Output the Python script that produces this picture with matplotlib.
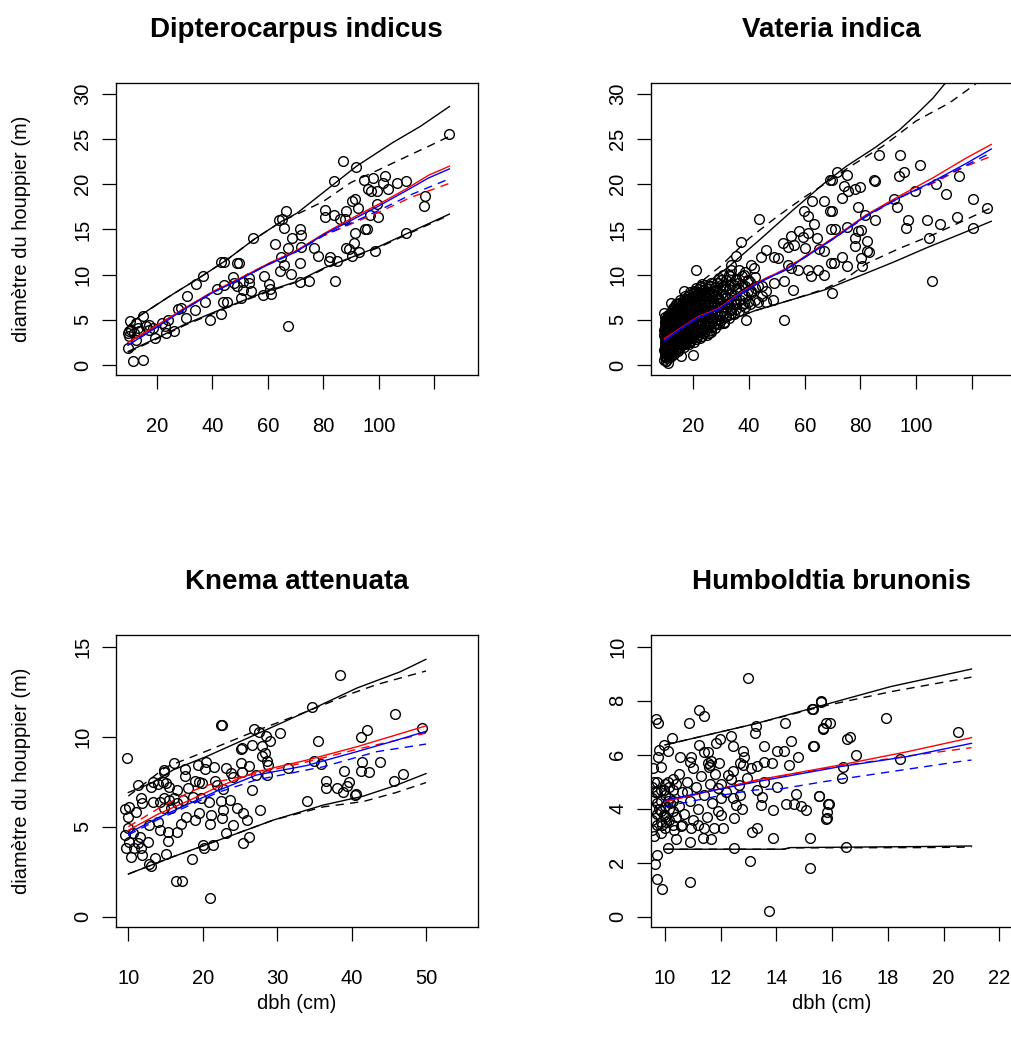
import matplotlib
matplotlib.use("Agg")
import matplotlib.pyplot as plt

plt.rcParams['font.family'] = ['Liberation Sans', 'DejaVu Sans']

W, H = 1012, 1043

# ---------------- Dipterocarpus indicus ----------------
dipt_pts = [(66.6, 17.0), (65.0, 16.15), (63.9, 16.0), (65.95, 15.15), (54.5, 14.05), (62.7, 13.4),
            (68.6, 14.05), (67.2, 12.9), (43.0, 11.45), (44.0, 11.4), (48.7, 11.3), (49.7, 11.3),
            (36.5, 9.9), (34.1, 8.95), (30.8, 7.6), (28.7, 6.3), (27.5, 6.2), (30.5, 5.2), (33.7, 6.1),
            (41.7, 8.4), (44.3, 8.9), (47.3, 9.7), (47.9, 9.07), (51.2, 9.14), (53.3, 9.6), (53.1, 9.07),
            (53.9, 8.15), (50.3, 7.4), (50.9, 8.3), (48.8, 8.7), (43.7, 7.0), (45.3, 6.93), (37.4, 6.93),
            (39.2, 5.0), (43.1, 5.7), (58.7, 9.88), (60.3, 9.0), (60.9, 8.4), (61.1, 7.85), (58.1, 7.8),
            (64.5, 10.36), (65.7, 11.06), (68.4, 10.1), (64.6, 11.9), (67.2, 4.27), (10.25, 4.9), (14.8, 5.38),
            (12.4, 4.64), (10.6, 3.9), (9.5, 3.5), (13.6, 3.72), (16.0, 4.27), (17.2, 3.9), (18.4, 4.1),
            (12.4, 2.8), (19.4, 3.0), (21.7, 4.64), (23.8, 5.0), (23.2, 3.54), (26.3, 3.72), (9.4, 1.88),
            (11.2, 0.4), (14.8, 0.6), (10.0, 3.17), (11.8, 3.54), (9.8, 3.72), (13.0, 4.1), (17.2, 4.46),
            (23.0, 4.35), (125.3, 25.6), (87.0, 22.6), (91.9, 21.9), (83.7, 20.4), (94.6, 20.5), (97.8, 20.7),
            (102.1, 20.9), (101.5, 20.1), (106.6, 20.1), (109.8, 20.4), (96.0, 19.5), (97.2, 19.3),
            (99.4, 19.3), (103.3, 19.5), (90.4, 18.2), (91.6, 18.4), (99.4, 17.8), (116.8, 18.7),
            (116.2, 17.55), (80.5, 17.2), (80.5, 16.33), (83.7, 16.55), (86.1, 16.15), (88.2, 17.0),
            (88.0, 16.15), (92.5, 17.4), (96.7, 16.55), (99.7, 16.33), (95.2, 15.1), (95.8, 15.0),
            (91.6, 14.6), (91.2, 13.5), (88.3, 12.9), (89.2, 12.8), (92.8, 12.5), (90.4, 12.1), (98.5, 12.6),
            (110.0, 14.6), (78.0, 12.1), (76.5, 12.9), (82.3, 12.0), (81.9, 11.5), (84.9, 11.5), (84.3, 9.3),
            (71.7, 11.3), (71.7, 9.2), (75.0, 9.3), (71.7, 15.1), (71.9, 14.4), (71.9, 13.1)]
dipt_hi = [(9.6, 4.3), (14, 5.5), (25, 7.7), (35, 9.6), (45, 11.6), (55, 13.9), (65, 15.9), (70.5, 16.8),
           (82.5, 19.7), (92, 22.0), (105, 24.6), (115, 26.4), (125.5, 28.6)]
dipt_hi2 = [(9.6, 4.3), (14, 5.5), (25, 7.7), (35, 9.6), (45, 11.6), (55, 13.9), (65, 15.9), (72, 16.9),
            (80, 18.1), (90, 20.2), (100, 21.6), (111, 23.2), (118, 24.2), (125.5, 25.3)]
dipt_lo = [(9.6, 1.5), (20, 3.0), (30, 4.5), (41, 5.9), (50, 7.0), (60, 8.2), (71, 9.3), (80, 10.7),
           (90, 11.9), (100, 13.1), (112, 14.8), (125.5, 16.7)]
dipt_lo2 = [(9.6, 1.4), (20, 2.9), (30, 4.4), (41, 5.8), (50, 6.95), (60, 8.1), (71, 9.25), (80, 10.6),
            (90, 11.85), (100, 13.0), (112, 14.7), (125.5, 16.6)]
dipt_red = [(9.5, 2.5), (20, 4.4), (30, 6.3), (40, 8.1), (50, 9.6), (60, 11.2), (70, 12.6), (80, 14.5),
            (90, 16.2), (100, 17.8), (110, 19.5), (118, 21.0), (125.5, 22.0)]
dipt_red2 = [(9.5, 2.5), (20, 4.4), (30, 6.3), (40, 8.1), (50, 9.6), (60, 11.2), (70, 12.6), (80, 14.3),
             (90, 15.6), (100, 16.9), (112, 18.6), (125.5, 20.1)]
dipt_blue = [(9.5, 2.2), (20, 4.2), (30, 6.2), (40, 8.0), (50, 9.5), (60, 11.1), (70, 12.5), (80, 14.4),
             (90, 16.0), (100, 17.6), (110, 19.3), (118, 20.7), (125.5, 21.7)]
dipt_blue2 = [(9.5, 2.2), (20, 4.2), (30, 6.2), (40, 8.0), (50, 9.5), (60, 11.1), (70, 12.5), (80, 14.3),
              (90, 15.7), (100, 17.1), (112, 18.9), (125.5, 20.6)]

# ---------------- Vateria indica ----------------
vat_pts = [(86.8, 23.26), (94.4, 23.26), (101.3, 22.08), (95.5, 21.4), (93.8, 20.9), (115.3, 20.9),
           (71.6, 21.3), (75.2, 21.05), (69.8, 20.5), (74.0, 19.8), (75.4, 19.2), (78.2, 19.5), (80.0, 19.7),
           (73.4, 18.5), (84.8, 20.5), (85.4, 20.4), (107.0, 20.05), (99.5, 19.2), (110.8, 18.9),
           (92.0, 18.4), (93.2, 17.5), (79.1, 17.5), (69.8, 17.0), (81.8, 16.6), (85.4, 16.0), (97.1, 16.1),
           (96.4, 15.2), (103.9, 16.0), (108.7, 15.6), (114.7, 16.4), (120.5, 18.4), (125.5, 17.4),
           (120.5, 15.2), (104.5, 14.05), (71.0, 15.1), (75.2, 15.3), (79.1, 14.8), (80.3, 14.9),
           (78.2, 14.05), (78.0, 13.2), (82.4, 13.7), (82.4, 12.6), (83.2, 12.5), (73.4, 11.9), (70.4, 11.3),
           (75.2, 11.0), (80.6, 11.0), (80.3, 11.8), (105.7, 9.3), (69.8, 7.97),
           (69.1, 20.5), (67.1, 18.1), (62.7, 18.1), (69.2, 17.0), (59.9, 17.0), (61.1, 16.5), (63.5, 15.6),
           (43.7, 16.2), (37.1, 13.6), (21.0, 10.5), (58.1, 14.8), (61.1, 14.6), (55.1, 14.3), (59.3, 14.2),
           (64.4, 14.05), (52.1, 13.5), (56.3, 13.3), (53.9, 13.1), (60.1, 12.9), (65.3, 12.8), (67.1, 12.6),
           (69.5, 15.0), (69.5, 11.3), (46.1, 12.75), (49.1, 12.0), (50.3, 11.8), (44.3, 12.0), (35.3, 12.1),
           (40.7, 11.1), (41.9, 10.7), (36.5, 10.5), (38.3, 10.0), (33.5, 11.1), (30.5, 10.0), (31.7, 9.4),
           (32.9, 10.0), (35.9, 9.1), (39.5, 9.4), (43.1, 8.7), (53.9, 11.1), (55.1, 10.7), (57.5, 10.5),
           (61.1, 10.5), (64.7, 10.5), (67.1, 10.0), (62.3, 9.8), (52.7, 9.3), (55.7, 8.3), (49.1, 9.1),
           (46.1, 8.2), (40.7, 8.2), (43.1, 7.0), (46.1, 7.0), (48.5, 7.2), (38.3, 6.9), (35.3, 6.7),
           (38.9, 5.0), (33.5, 6.1), (52.5, 5.0), (16.8, 8.2), (27.6, 8.2), (30.5, 8.7), (35.3, 9.4),
           (26.4, 9.1), (22.8, 8.7), (21.6, 8.0), (24.6, 7.6), (28.8, 7.2), (32.3, 6.9), (19.2, 7.2),
           (12.0, 6.9), (9.6, 5.8), (9.8, 4.8), (13.2, 5.6), (16.8, 5.4), (21.0, 5.8), (24.0, 5.2),
           (28.8, 5.4), (31.1, 4.64), (22.8, 3.9), (26.4, 3.7), (19.2, 3.2), (15.6, 2.8), (19.8, 1.15),
           (10.2, 0.4), (9.5, 1.7), (12.0, 1.0), (15.6, 1.0), (9.6, 3.9), (10.8, 0.2)]
# dense cloud of small trees (read row by row)
vat_small = [(9.6, 0.6), (9.9, 1.4), (9.7, 2.1), (10.1, 2.7), (9.6, 3.3), (9.8, 3.9), (10.2, 4.5),
             (10.0, 1.0), (10.3, 1.8), (9.9, 2.4), (10.0, 3.0), (10.3, 3.6), (9.9, 4.2), (10.1, 4.9),
             (10.5, 0.8), (10.7, 1.5), (10.4, 2.2), (10.6, 2.9), (10.8, 3.5), (10.5, 4.0), (10.7, 4.6), (10.4, 5.2),
             (11.0, 1.2), (11.2, 1.9), (10.9, 2.6), (11.1, 3.2), (11.3, 3.8), (10.9, 4.4), (11.2, 5.0),
             (11.6, 0.9), (11.8, 1.6), (11.5, 2.3), (11.7, 3.0), (11.9, 3.7), (11.5, 4.3), (11.8, 5.0), (11.6, 5.6),
             (12.2, 1.3), (12.4, 2.0), (12.1, 2.8), (12.3, 3.4), (12.5, 4.1), (12.1, 4.8), (12.4, 5.4), (12.2, 6.1),
             (12.8, 1.7), (13.0, 2.5), (12.7, 3.2), (12.9, 3.9), (13.1, 4.6), (12.8, 5.2), (13.0, 5.9),
             (13.5, 1.5), (13.7, 2.2), (13.4, 3.0), (13.6, 3.7), (13.8, 4.4), (13.4, 5.1), (13.7, 5.8), (13.5, 6.5),
             (14.2, 1.9), (14.4, 2.7), (14.1, 3.4), (14.3, 4.1), (14.5, 4.9), (14.1, 5.6), (14.4, 6.3),
             (15.0, 1.8), (15.2, 2.5), (14.9, 3.3), (15.1, 4.0), (15.3, 4.7), (14.9, 5.4), (15.2, 6.1), (15.0, 6.9),
             (15.8, 2.2), (16.0, 3.0), (15.7, 3.7), (15.9, 4.5), (16.1, 5.2), (15.7, 6.0), (16.0, 6.7),
             (16.6, 2.0), (16.8, 2.8), (16.5, 3.6), (16.7, 4.3), (16.9, 5.1), (16.5, 5.8), (16.8, 6.6), (16.6, 7.3),
             (17.5, 2.5), (17.7, 3.3), (17.4, 4.1), (17.6, 4.9), (17.8, 5.6), (17.4, 6.4), (17.7, 7.1),
             (18.4, 2.3), (18.6, 3.1), (18.3, 3.9), (18.5, 4.7), (18.7, 5.5), (18.3, 6.2), (18.6, 7.0), (18.4, 7.8),
             (19.3, 2.8), (19.5, 3.6), (19.2, 4.4), (19.4, 5.2), (19.6, 6.0), (19.2, 6.8), (19.5, 7.5),
             (20.3, 2.6), (20.5, 3.4), (20.2, 4.2), (20.4, 5.0), (20.6, 5.8), (20.2, 6.6), (20.5, 7.4), (20.3, 8.2),
             (21.4, 3.1), (21.6, 3.9), (21.3, 4.7), (21.5, 5.6), (21.7, 6.4), (21.3, 7.2), (21.6, 8.0),
             (22.5, 3.0), (22.7, 3.8), (22.4, 4.6), (22.6, 5.5), (22.8, 6.3), (22.4, 7.1), (22.7, 7.9), (22.5, 8.6),
             (23.7, 3.5), (23.9, 4.3), (23.6, 5.2), (23.8, 6.0), (24.0, 6.8), (23.6, 7.7),
             (25.0, 3.3), (25.2, 4.2), (24.9, 5.0), (25.1, 5.9), (25.3, 6.7), (24.9, 7.6), (25.2, 8.4),
             (26.4, 3.9), (26.6, 4.8), (26.3, 5.7), (26.5, 6.5), (26.7, 7.4), (26.3, 8.8),
             (27.8, 4.1), (28.0, 5.0), (27.7, 5.9), (27.9, 6.8), (28.1, 7.7), (27.7, 8.6),
             (29.3, 4.5), (29.5, 5.5), (29.2, 6.4), (29.4, 7.3), (29.6, 8.3), (29.2, 9.6),
             (31.0, 4.8), (31.2, 5.8), (30.9, 6.8), (31.1, 7.8), (31.3, 8.8),
             (32.8, 5.2), (33.0, 6.3), (32.7, 7.3), (32.9, 8.4), (33.1, 9.9),
             (34.6, 5.6), (34.8, 6.7), (34.5, 7.8), (34.7, 8.9),
             (36.5, 6.0), (36.7, 7.2), (36.4, 8.4),
             (38.5, 6.4), (38.7, 7.6), (38.4, 8.8), (38.6, 10.3),
             (40.5, 6.8), (40.7, 8.0), (40.4, 9.2)]
vat_small2 = [(9.8, 0.9), (9.8, 1.7), (9.8, 2.4), (9.8, 3.0), (9.8, 3.6), (9.8, 4.2), (9.8, 4.8), (9.8, 5.3),
              (10.3, 0.5), (10.3, 1.2), (10.3, 2.0), (10.3, 2.6), (10.3, 3.3), (10.3, 3.9), (10.3, 4.5), (10.3, 5.1),
              (10.8, 1.0), (10.8, 1.7), (10.8, 2.5), (10.8, 3.1), (10.8, 3.7), (10.8, 4.3), (10.8, 4.9), (10.8, 5.5),
              (11.4, 1.4), (11.4, 2.1), (11.4, 2.8), (11.4, 3.4), (11.4, 4.0), (11.4, 4.7), (11.4, 5.3),
              (12.0, 1.0), (12.0, 1.7), (12.0, 2.5), (12.0, 3.1), (12.0, 3.8), (12.0, 4.4), (12.0, 5.1), (12.0, 5.8),
              (12.6, 1.5), (12.6, 2.2), (12.6, 3.0), (12.6, 3.6), (12.6, 4.3), (12.6, 5.0), (12.6, 5.6), (12.6, 6.3),
              (13.2, 1.2), (13.2, 2.0), (13.2, 2.7), (13.2, 3.5), (13.2, 4.2), (13.2, 4.9), (13.2, 5.5), (13.2, 6.2),
              (13.9, 1.8), (13.9, 2.6), (13.9, 3.3), (13.9, 4.0), (13.9, 4.7), (13.9, 5.4), (13.9, 6.1), (13.9, 6.8),
              (14.6, 1.6), (14.6, 2.3), (14.6, 3.0), (14.6, 3.8), (14.6, 4.5), (14.6, 5.2), (14.6, 6.0), (14.6, 6.7),
              (15.4, 2.0), (15.4, 2.8), (15.4, 3.5), (15.4, 4.3), (15.4, 5.0), (15.4, 5.7), (15.4, 6.5), (15.4, 7.2),
              (16.2, 2.4), (16.2, 3.2), (16.2, 4.0), (16.2, 4.7), (16.2, 5.5), (16.2, 6.3), (16.2, 7.0),
              (17.0, 2.3), (17.0, 3.1), (17.0, 3.9), (17.0, 4.6), (17.0, 5.4), (17.0, 6.2), (17.0, 6.9), (17.0, 7.6),
              (17.9, 2.8), (17.9, 3.6), (17.9, 4.4), (17.9, 5.2), (17.9, 6.0), (17.9, 6.8), (17.9, 7.5),
              (18.9, 2.6), (18.9, 3.4), (18.9, 4.2), (18.9, 5.0), (18.9, 5.8), (18.9, 6.6), (18.9, 7.4), (18.9, 8.1),
              (19.8, 3.0), (19.8, 3.9), (19.8, 4.7), (19.8, 5.5), (19.8, 6.3), (19.8, 7.1), (19.8, 7.9),
              (20.9, 2.9), (20.9, 3.7), (20.9, 4.5), (20.9, 5.3), (20.9, 6.1), (20.9, 6.9), (20.9, 7.7), (20.9, 8.5),
              (21.9, 3.4), (21.9, 4.3), (21.9, 5.1), (21.9, 5.9), (21.9, 6.8), (21.9, 7.6), (21.9, 8.4),
              (23.1, 3.2), (23.1, 4.1), (23.1, 4.9), (23.1, 5.8), (23.1, 6.6), (23.1, 7.4), (23.1, 8.2), (23.1, 9.0),
              (24.3, 3.8), (24.3, 4.7), (24.3, 5.5), (24.3, 6.4), (24.3, 7.2), (24.3, 8.1), (24.3, 8.9),
              (25.7, 3.6), (25.7, 4.5), (25.7, 5.4), (25.7, 6.2), (25.7, 7.1), (25.7, 8.0), (25.7, 8.8),
              (27.1, 4.3), (27.1, 5.2), (27.1, 6.1), (27.1, 7.0), (27.1, 7.9), (27.1, 8.2),
              (28.6, 4.7), (28.6, 5.6), (28.6, 6.5), (28.6, 7.4), (28.6, 8.3), (28.6, 9.1),
              (30.1, 5.0), (30.1, 6.0), (30.1, 6.9), (30.1, 7.9), (30.1, 8.9), (30.1, 9.4),
              (31.9, 5.4), (31.9, 6.4), (31.9, 7.4), (31.9, 8.4), (31.9, 9.4),
              (33.7, 5.8), (33.7, 6.9), (33.7, 7.9), (33.7, 9.0), (33.7, 10.5),
              (35.5, 6.2), (35.5, 7.3), (35.5, 8.4), (35.5, 9.5),
              (37.5, 6.6), (37.5, 7.8), (37.5, 9.0), (37.5, 9.8),
              (39.5, 7.0), (39.5, 8.2), (39.5, 9.4),
              (42.0, 7.2), (42.0, 8.5), (42.0, 9.7),
              (44.5, 7.6), (44.5, 8.8)]
vat_hi = [(8.7, 4.8), (15, 6.7), (20, 8.0), (32, 10.7), (44, 13.9), (56, 17.2), (67, 20.1), (75, 22.0),
          (85, 24.0), (94, 26.0), (100, 27.7), (106, 29.5), (110, 31.0), (115, 32.5)]
vat_hi2 = [(8.7, 4.8), (15, 6.9), (20, 8.5), (30, 11.0), (40, 14.0), (50, 16.4), (60, 18.6), (70, 20.6),
           (76, 21.9), (88, 24.2), (100, 27.0), (112, 29.0), (121, 31.0), (126, 32.5)]
vat_lo = [(8.7, 1.6), (15, 2.6), (20, 3.2), (30, 4.6), (42, 6.0), (55, 7.2), (67, 8.3), (80, 9.9),
          (92, 11.4), (104, 13.0), (116, 14.5), (127, 15.9)]
vat_lo2 = [(8.7, 1.6), (15, 2.6), (20, 3.2), (30, 4.6), (42, 6.0), (55, 7.2), (67, 8.4), (75, 9.6),
           (82, 11.2), (94, 12.9), (106, 14.4), (118, 16.1), (127, 17.4)]
vat_red = [(9.6, 2.9), (15, 4.0), (22, 5.4), (28.8, 6.2), (36, 7.8), (44, 9.3), (53, 10.6), (61, 12.2),
           (70, 14.0), (82, 16.6), (94, 18.7), (106, 20.7), (118, 22.9), (127, 24.4)]
vat_red2 = [(9.6, 2.9), (15, 4.0), (22, 5.4), (28.8, 6.2), (36, 7.8), (44, 9.3), (53, 10.6), (61, 12.2),
            (70, 14.0), (82, 16.5), (94, 18.6), (106, 20.1), (118, 22.0), (127, 23.1)]
vat_blue = [(9.6, 2.7), (15, 3.9), (22, 5.3), (28.8, 6.1), (36, 7.7), (44, 9.2), (53, 10.5), (61, 12.1),
            (70, 13.9), (82, 16.5), (94, 18.5), (106, 20.3), (118, 22.3), (127, 23.9)]
vat_blue2 = [(9.6, 2.7), (15, 3.9), (22, 5.3), (28.8, 6.1), (36, 7.7), (44, 9.2), (53, 10.5), (61, 12.1),
             (70, 13.9), (82, 16.4), (94, 18.5), (106, 20.2), (118, 22.1), (127, 23.5)]

# ---------------- Knema attenuata ----------------
knema_pts = [(22.5, 10.65), (22.6, 10.65), (9.83, 8.8), (26.85, 10.43), (27.6, 10.28), (30.4, 10.19),
             (28.5, 10.06), (29.05, 9.76), (26.6, 9.54), (27.9, 9.5), (25.3, 9.39), (25.15, 9.3), (28.4, 9.08),
             (27.9, 8.93), (28.7, 8.65), (28.8, 8.43), (31.4, 8.28), (25.1, 8.52), (26.2, 8.39), (25.3, 8.02),
             (27.2, 7.87), (28.7, 7.87), (23.1, 8.28), (23.8, 7.96), (24.0, 7.78), (21.7, 7.54), (21.9, 7.32),
             (20.4, 8.61), (20.35, 8.19), (21.5, 8.33), (19.3, 8.43), (16.2, 8.52), (14.8, 8.15), (14.75, 8.06),
             (17.6, 8.2), (17.65, 7.82), (18.9, 7.56), (19.55, 7.5), (19.9, 7.41), (13.3, 7.5), (13.95, 7.37),
             (14.6, 7.5), (15.05, 7.41), (15.5, 7.22), (11.3, 7.32), (13.05, 7.22), (18.0, 7.13), (16.6, 7.04),
             (22.7, 7.1), (26.6, 7.04), (11.7, 6.61), (10.14, 6.11), (9.56, 5.96), (11.0, 5.83), (10.0, 5.56),
             (11.9, 6.3), (13.3, 6.39), (14.2, 6.39), (14.85, 6.58), (15.5, 6.48), (16.2, 6.58), (14.85, 6.02),
             (15.7, 6.02), (16.6, 6.3), (17.3, 6.48), (18.65, 6.67), (19.8, 6.58), (20.9, 6.39), (22.5, 6.43),
             (23.6, 6.48), (22.7, 5.93), (21.1, 5.65), (22.6, 5.5), (24.0, 5.1), (24.6, 6.06), (25.4, 5.78),
             (26.0, 5.37), (27.7, 5.93), (19.55, 5.78), (18.9, 5.37), (17.75, 5.56), (17.1, 5.13),
             (16.55, 4.72), (13.95, 5.28), (12.8, 5.09), (14.2, 4.82), (15.3, 4.72), (21.0, 5.13), (9.9, 4.91),
             (9.6, 4.54), (10.6, 4.63), (11.5, 4.45), (10.1, 4.17), (11.3, 4.07), (12.6, 4.17), (9.7, 3.8),
             (10.8, 3.8), (11.7, 3.8), (10.4, 3.33), (11.9, 3.43), (13.6, 3.28), (15.1, 3.48), (15.3, 4.2),
             (12.8, 2.91), (13.05, 2.82), (18.6, 3.19), (20.0, 3.98), (20.1, 3.8), (21.4, 3.98), (23.1, 4.63),
             (25.35, 4.07), (26.2, 4.45), (16.4, 2.0), (17.2, 2.0), (21.0, 1.02), (38.5, 13.43), (34.7, 11.67),
             (45.9, 11.26), (41.2, 9.96), (42.1, 10.37), (35.45, 9.76), (49.5, 10.46), (35.0, 8.67),
             (35.9, 8.46), (41.4, 8.61), (43.8, 8.61), (39.0, 8.11), (41.2, 8.11), (42.3, 8.02), (36.5, 7.54),
             (36.6, 7.13), (38.05, 7.13), (38.85, 6.95), (39.4, 7.28), (39.7, 7.47), (40.4, 6.76),
             (40.65, 6.82), (45.7, 7.54), (46.9, 7.91), (34.0, 6.45)]
knema_hi = [(10, 6.9), (13, 7.4), (16, 8.15), (20.5, 8.9), (27, 10.1), (34, 11.4), (40.7, 12.7),
            (46.5, 13.6), (50, 14.3)]
knema_hi2 = [(10, 6.7), (15, 8.3), (20.5, 9.2), (27, 10.3), (34, 11.4), (40, 12.4), (43.4, 12.9),
             (50, 13.65)]
knema_lo = [(10, 2.37), (16, 3.33), (22.8, 4.35), (29.5, 5.37), (36.2, 6.2), (41.6, 6.7), (46, 7.3),
            (50, 7.95)]
knema_lo2 = [(10, 2.37), (16, 3.33), (22.8, 4.35), (29.5, 5.37), (36.2, 6.1), (41.6, 6.4), (46, 6.9),
             (50, 7.45)]
knema_red = [(10, 4.8), (14, 5.7), (18.3, 6.48), (22, 7.2), (27.2, 8.05), (34, 8.7), (40.7, 9.44),
             (46, 10.1), (50, 10.6)]
knema_red2 = [(10, 5.0), (14, 6.0), (18.3, 6.94), (22, 7.5), (27.2, 7.95), (34, 8.6), (40.7, 9.3),
              (46, 9.8), (50, 10.2)]
knema_blue = [(10, 4.63), (14, 5.5), (18.3, 6.3), (22, 7.0), (27.2, 7.87), (34, 8.4), (40.7, 9.17),
              (46, 9.8), (50, 10.3)]
knema_blue2 = [(10, 4.54), (14, 5.4), (18.3, 6.2), (22, 6.9), (27.2, 7.6), (36.2, 8.33), (43.4, 9.17),
               (50, 9.59)]

# ---------------- Humboldtia brunonis ----------------
humb_pts = [(12.99, 8.83), (11.23, 7.65), (11.41, 7.44), (9.68, 7.32), (9.76, 7.16), (10.85, 7.16),
            (15.6, 7.96), (15.3, 7.69), (13.26, 7.07), (13.24, 6.79), (14.32, 7.16), (15.78, 7.16),
            (15.66, 6.95), (10.27, 6.63), (9.98, 6.35), (9.8, 6.17), (10.12, 6.13), (9.74, 5.92), (11.23, 6.35),
            (11.83, 6.45), (11.98, 6.58), (12.37, 6.7), (12.43, 6.32), (11.41, 6.11), (11.55, 6.11),
            (12.82, 6.13), (13.56, 6.33), (14.04, 6.13), (14.26, 6.13), (14.52, 6.5), (15.33, 6.32),
            (14.76, 5.92), (14.46, 5.61), (10.55, 5.92), (10.93, 5.92), (10.91, 5.74), (11.53, 5.68),
            (11.65, 5.76), (11.95, 5.68), (11.59, 5.55), (12.7, 5.7), (12.85, 5.92), (12.79, 5.61),
            (13.08, 5.49), (13.32, 5.59), (13.54, 5.74), (13.83, 5.68), (9.86, 5.55), (9.56, 5.49),
            (12.43, 5.39), (12.25, 5.24), (12.37, 5.1), (12.96, 5.12), (13.56, 4.99), (14.04, 4.81),
            (12.01, 4.9), (12.67, 4.87), (11.89, 4.75), (13.32, 4.69), (14.7, 4.53), (13.5, 4.44),
            (13.44, 4.13), (12.75, 3.98), (12.55, 4.13), (12.7, 4.5), (12.43, 4.38), (12.01, 4.38),
            (12.19, 4.63), (14.34, 4.16), (14.64, 4.19), (14.88, 4.11), (15.06, 3.97), (13.89, 3.97),
            (15.54, 4.47), (15.84, 4.16), (15.81, 3.66), (12.49, 3.64), (12.03, 3.76), (12.1, 3.29),
            (11.77, 3.29), (11.67, 2.87), (11.35, 2.9), (10.91, 2.77), (10.93, 3.29), (10.57, 3.35),
            (10.39, 2.87), (10.31, 3.21), (10.12, 2.53), (9.89, 3.39), (9.97, 3.76), (13.14, 3.14),
            (13.32, 3.29), (13.89, 2.92), (15.21, 2.92), (12.49, 2.53), (9.71, 2.28), (9.64, 1.97),
            (9.71, 1.41), (9.89, 1.01), (10.91, 1.27), (13.05, 2.06), (15.21, 1.81), (13.74, 0.22),
            (10.1, 4.3), (17.93, 7.37), (20.53, 6.84), (18.44, 5.84), (16.86, 5.99), (16.49, 2.57),
            (16.4, 5.56), (16.34, 5.13), (16.64, 6.67), (16.52, 6.57), (15.92, 7.19), (15.68, 6.98),
            (15.9, 4.17), (15.8, 3.89), (15.78, 3.62), (15.54, 4.48), (15.35, 6.32), (15.27, 7.68),
            (15.6, 7.97)]
humb_small = [(9.55, 3.2), (9.55, 3.6), (9.55, 4.0), (9.55, 4.4), (9.55, 4.8), (9.7, 3.4), (9.7, 3.8),
              (9.7, 4.2), (9.7, 4.6), (9.7, 5.0), (9.85, 3.1), (9.85, 3.5), (9.85, 3.9), (9.85, 4.3),
              (9.85, 4.7), (10.0, 3.3), (10.0, 3.7), (10.0, 4.1), (10.0, 4.5), (10.0, 4.9), (10.15, 3.6),
              (10.15, 4.0), (10.15, 4.4), (10.15, 4.8), (10.3, 3.4), (10.3, 3.9), (10.3, 4.3), (10.3, 4.7),
              (10.3, 5.1), (10.4, 4.9), (10.5, 4.1), (10.6, 4.6), (10.7, 3.8), (10.8, 5.0), (10.9, 4.3),
              (11.0, 3.6), (11.1, 4.8), (11.2, 4.0), (11.3, 5.2), (11.4, 4.5), (11.5, 3.7), (11.6, 4.9),
              (11.7, 4.2), (11.8, 5.3), (11.9, 3.9), (10.5, 5.3), (10.6, 3.4), (11.0, 5.5), (11.2, 3.4),
              (10.8, 4.6), (11.4, 3.3), (10.4, 3.7), (11.6, 5.6), (9.6, 3.0), (9.65, 4.6), (9.8, 4.0),
              (9.95, 4.7), (10.05, 3.5), (10.2, 4.2), (9.6, 5.0), (10.1, 5.0)]
humb_hi = [(10, 6.36), (13.3, 7.16), (15.7, 7.84), (18.1, 8.52), (21.0, 9.17)]
humb_hi2 = [(10, 6.36), (13.3, 7.16), (15.7, 7.8), (18.1, 8.33), (21.0, 8.87)]
humb_lo = [(10, 2.5), (14.25, 2.5), (14.5, 2.56), (19.3, 2.6), (21.0, 2.62)]
humb_lo2 = [(10, 2.5), (14.25, 2.5), (14.5, 2.55), (19.3, 2.56), (21.0, 2.58)]
humb_red = [(10, 4.26), (13.3, 5.06), (16.3, 5.62), (18.7, 6.11), (21.0, 6.63)]
humb_red2 = [(10, 4.26), (13.3, 5.06), (16.3, 5.58), (18.7, 5.95), (21.0, 6.26)]
humb_blue = [(10, 4.32), (13.3, 5.0), (16.3, 5.56), (18.7, 5.93), (21.0, 6.42)]
humb_blue2 = [(10, 4.08), (12.1, 4.51), (13.2, 4.69), (14.25, 4.75), (15.7, 5.0), (18.1, 5.37),
              (20.8, 5.78), (21.0, 5.8)]

fig = plt.figure(figsize=(W / 100, H / 100), dpi=100)


def px_rect(l, t, r, b):
    return [l / W, 1 - b / H, (r - l) / W, (b - t) / H]


def panel(rect, title, pts, lines, xlim, ylim, xticks, xlabels, yticks, ylab=False, xlab=False):
    ax = fig.add_axes(rect)
    xs, ys = zip(*pts)
    ax.plot(xs, ys, 'o', mfc='none', mec='black', ms=7.0, mew=1.0, zorder=2)
    styles = [('black', '-'), ('black', (0, (6, 4.5))), ('black', '-'), ('black', (0, (6, 4.5))),
              ('red', '-'), ('red', (0, (6, 4.5))), ('blue', '-'), ('blue', (0, (6, 4.5)))]
    for line, (col, ls) in zip(lines, styles):
        lx, ly = zip(*line)
        ax.plot(lx, ly, color=col, linestyle=ls, lw=1.0, zorder=3)
    ax.set_xlim(*xlim)
    ax.set_ylim(*ylim)
    ax.set_xticks(xticks)
    ax.set_xticklabels(xlabels)
    ax.set_yticks(yticks)
    ax.set_yticklabels([str(v) for v in yticks], rotation=90, va='center')
    ax.tick_params(direction='out', length=10, width=0.9, labelsize=14.5)
    ax.tick_params(axis='x', pad=20)
    ax.tick_params(axis='y', pad=7)
    for s in ax.spines.values():
        s.set_linewidth(0.95)
    h = rect[3] * H
    w = rect[2] * W
    ax.text(0.5, 1 + 53 / h, title, transform=ax.transAxes, ha='center', va='center',
            fontsize=20, fontweight='bold')
    if ylab:
        ax.text(-94 / w, 0.5, 'diamètre du houppier (m)', transform=ax.transAxes, rotation=90,
                ha='center', va='center', fontsize=14.5)
    if xlab:
        ax.text(0.5, -76 / h, 'dbh (cm)', transform=ax.transAxes, ha='center', va='center',
                fontsize=14.5)
    return ax


big_ticks = [20, 40, 60, 80, 100, 120]
big_labels = ['20', '40', '60', '80', '100', '']

panel(px_rect(115.7, 83, 477.7, 375), 'Dipterocarpus indicus', dipt_pts,
      [dipt_hi, dipt_hi2, dipt_lo, dipt_lo2, dipt_red, dipt_red2, dipt_blue, dipt_blue2],
      (5.1, 135.7), (-1.1, 31.2), big_ticks, big_labels, [0, 5, 10, 15, 20, 25, 30], ylab=True)

panel(px_rect(650.7, 83, 1012.7, 375), 'Vateria indica', vat_pts + vat_small + vat_small2,
      [vat_hi, vat_hi2, vat_lo, vat_lo2, vat_red, vat_red2, vat_blue, vat_blue2],
      (4.7, 134.7), (-1.1, 31.2), big_ticks, big_labels, [0, 5, 10, 15, 20, 25, 30])

panel(px_rect(115.7, 635, 477.7, 927.3), 'Knema attenuata', knema_pts,
      [knema_hi, knema_hi2, knema_lo, knema_lo2, knema_red, knema_red2, knema_blue, knema_blue2],
      (8.3, 56.95), (-0.59, 15.65), [10, 20, 30, 40, 50], ['10', '20', '30', '40', '50'],
      [0, 5, 10, 15], ylab=True, xlab=True)

panel(px_rect(650.7, 635, 1012.7, 927.3), 'Humboldtia brunonis', humb_pts + humb_small,
      [humb_hi, humb_hi2, humb_lo, humb_lo2, humb_red, humb_red2, humb_blue, humb_blue2],
      (9.49, 22.48), (-0.39, 10.43), [10, 12, 14, 16, 18, 20, 22],
      ['10', '12', '14', '16', '18', '20', '22'], [0, 2, 4, 6, 8, 10], xlab=True)

fig.savefig('out.png', dpi=100)
